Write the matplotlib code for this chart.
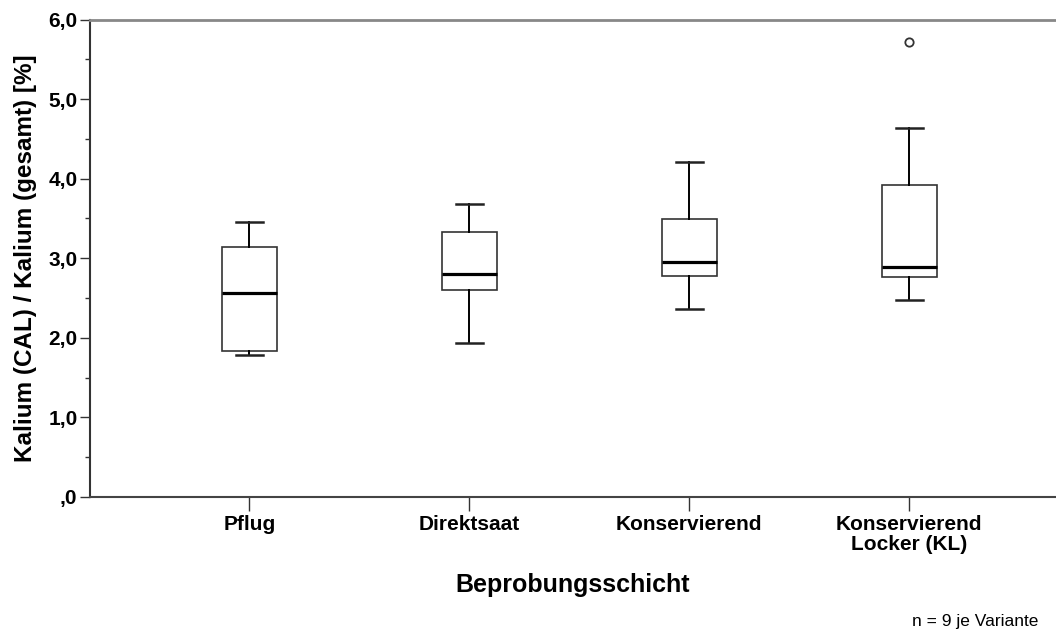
import matplotlib
matplotlib.use("Agg")
import matplotlib.pyplot as plt
from matplotlib.ticker import MultipleLocator

plt.rcParams['font.family'] = ['Liberation Sans', 'DejaVu Sans']

# --- Werte ---
varianten = ['Pflug', 'Direktsaat', 'Konservierend', 'Konservierend\nLocker (KL)']
whisker_lo = [1.79, 1.94, 2.36, 2.48]
q1 = [1.84, 2.60, 2.78, 2.77]
median = [2.56, 2.80, 2.95, 2.89]
q3 = [3.14, 3.33, 3.49, 3.92]
whisker_hi = [3.45, 3.68, 4.21, 4.64]
ausreisser = [[], [], [], [5.72]]

y_ticks = [0, 1, 2, 3, 4, 5, 6]
y_ticklabels = [',0', '1,0', '2,0', '3,0', '4,0', '5,0', '6,0']

stats = []
for i, name in enumerate(varianten):
    stats.append({'label': name, 'whislo': whisker_lo[i], 'q1': q1[i], 'med': median[i],
                  'q3': q3[i], 'whishi': whisker_hi[i], 'fliers': ausreisser[i]})

fig = plt.figure(figsize=(10.56, 6.34), dpi=100)
ax = fig.add_axes([0.0852, 0.2161, 0.9148, 0.7531])

pos = [1, 2, 3, 4]
ax.bxp(stats, positions=pos, widths=0.25, patch_artist=True,
       boxprops=dict(facecolor='white', edgecolor='#333333', linewidth=1.2),
       medianprops=dict(color='black', linewidth=2.3),
       whiskerprops=dict(color='black', linewidth=1.4),
       capprops=dict(color='#222222', linewidth=1.8),
       capwidths=0.125,
       flierprops=dict(marker='o', markersize=6, markerfacecolor='white',
                       markeredgecolor='#333333', markeredgewidth=1.3))

ax.set_xlim(0.276, 4.667)
ax.set_ylim(0, 6)
ax.set_yticks(y_ticks)
ax.set_yticklabels(y_ticklabels, fontsize=15, fontweight='bold')
ax.yaxis.set_minor_locator(MultipleLocator(0.5))
ax.set_xticks(pos)
ax.set_xticklabels(varianten, fontsize=15, fontweight='bold', linespacing=1.05)

ax.tick_params(axis='y', which='major', length=7, width=1, color='#333333', pad=2)
ax.tick_params(axis='y', which='minor', length=3.6, width=1, color='#333333')
ax.tick_params(axis='x', which='major', length=10, width=1, color='#333333', pad=3)

ax.spines['right'].set_visible(False)
ax.spines['top'].set_color('#888888')
ax.spines['top'].set_linewidth(2)
ax.spines['left'].set_color('#333333')
ax.spines['left'].set_linewidth(1.5)
ax.spines['bottom'].set_color('#444444')
ax.spines['bottom'].set_linewidth(1.5)

ax.set_ylabel('Kalium (CAL) / Kalium (gesamt) [%]', fontsize=17.5, fontweight='bold')
ax.yaxis.set_label_coords(-0.055, 0.5)
ax.set_xlabel('Beprobungsschicht', fontsize=18, fontweight='bold')
ax.xaxis.set_label_coords(0.5, -0.16)

fig.text(0.983, 0.008, 'n = 9 je Variante', ha='right', va='bottom', fontsize=12.5)

fig.savefig('out.png', dpi=100)
